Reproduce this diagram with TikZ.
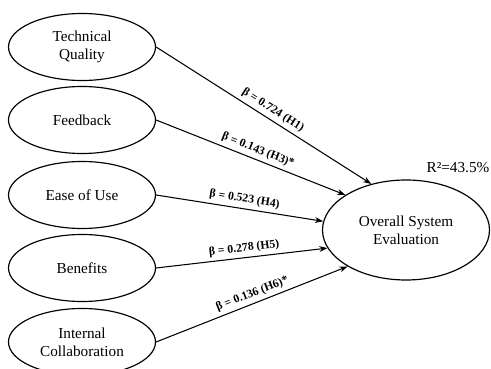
\documentclass[tikz,border=0pt]{standalone}
\usepackage{fontspec}
\setmainfont{Liberation Serif}
\usetikzlibrary{arrows.meta, shapes.geometric}

\begin{document}
\begin{tikzpicture}[
    x=0.03cm, y=-0.03cm,
    every node/.style={font=\fontsize{13}{15.5}\selectfont},
    construct/.style={ellipse, draw=black, line width=1pt, minimum width=4.41cm,
        minimum height=2.01cm, inner sep=0pt, align=center},
    outcome/.style={construct, minimum width=5.01cm, minimum height=3.0cm},
    arr/.style={-{Stealth[length=7pt, width=5pt]}, line width=0.9pt},
    coef/.style={pos=0.52, above=2pt, sloped, inner sep=1pt,
        font=\fontsize{10}{12}\selectfont\bfseries},
]

\useasboundingbox (0,0) rectangle (491,369);
\clip (0,0) rectangle (491,369);

% === Predictors ===
\node[construct] (tech) at (82, 47)  {Technical\\Quality};
\node[construct] (feed) at (82, 120) {Feedback};
\node[construct] (ease) at (82, 195) {Ease of Use};
\node[construct] (bene) at (82, 268) {Benefits};
\node[construct] (coll) at (82, 342) {Internal\\Collaboration};

% === Outcome ===
\node[outcome] (eval) at (406, 230) {Overall System\\Evaluation};
\node (rsq) at (458, 168) {R²=43.5\%};

% === Paths ===
\draw[arr] (tech.east) -- (eval.127.5) node[coef] {β = 0.724 (H1)};
\draw[arr] (feed.east) -- (eval.150)   node[coef] {β = 0.143 (H3)*};
\draw[arr] (ease.east) -- (eval.174.5) node[coef] {β = 0.523 (H4)};
\draw[arr] (bene.east) -- (eval.193)   node[coef] {β = 0.278 (H5)};
\draw[arr] (coll.east) -- (eval.212)   node[coef] {β = 0.136 (H6)*};

\end{tikzpicture}
\end{document}
